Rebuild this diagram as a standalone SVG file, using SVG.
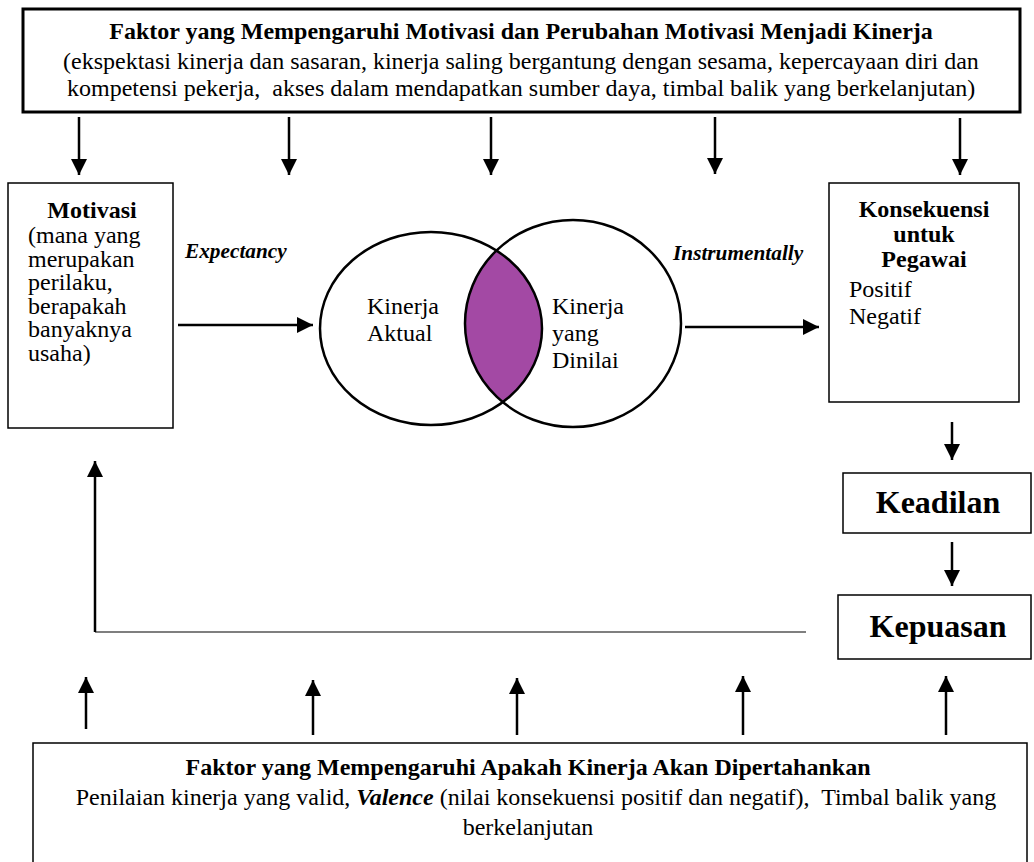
<svg xmlns="http://www.w3.org/2000/svg" width="1034" height="862" viewBox="0 0 1034 862">
  <style>
    text { font-family: "Liberation Serif", "Times New Roman", serif; font-size: 24px; fill: #000; white-space: pre; }
    .b { font-weight: bold; }
    .bi { font-weight: bold; font-style: italic; }
    .lab { font-weight: bold; font-style: italic; font-size: 21.3px; }
    .big { font-weight: bold; font-size: 32px; }
    .mid { text-anchor: middle; }
    .box { fill: #fff; stroke: #000; stroke-width: 1.5; }
    .thick { fill: #fff; stroke: #000; stroke-width: 3; }
    .arrow { stroke: #000; stroke-width: 2.5; fill: none; marker-end: url(#head); }
    .ring { fill: none; stroke: #000; stroke-width: 2.5; }
  </style>
  <defs>
    <marker id="head" markerUnits="userSpaceOnUse" markerWidth="16" markerHeight="16" refX="16" refY="8" orient="auto">
      <path d="M0,0 L16,8 L0,16 z" fill="#000"/>
    </marker>
    <clipPath id="leftClip">
      <ellipse cx="431" cy="328.5" rx="111" ry="96.5"/>
    </clipPath>
  </defs>
  <rect width="1034" height="862" fill="#fff"/>

  <!-- factors driving motivation -->
  <g id="node-faktor-motivasi">
    <rect class="thick" x="23" y="9" width="997" height="103"/>
    <text class="b mid" x="521" y="39">Faktor yang Mempengaruhi Motivasi dan Perubahan Motivasi Menjadi Kinerja</text>
    <text x="63" y="68.5">(ekspektasi kinerja dan sasaran, kinerja saling bergantung dengan sesama, kepercayaan diri dan</text>
    <text x="67" y="96">kompetensi pekerja,  akses dalam mendapatkan sumber daya, timbal balik yang berkelanjutan)</text>
  </g>

  <g id="node-motivasi">
    <rect class="box" x="8" y="183" width="165" height="245"/>
    <text class="b mid" x="92" y="218">Motivasi</text>
    <text x="28" y="243">(mana yang</text>
    <text x="28" y="266.6">merupakan</text>
    <text x="28" y="290.2">perilaku,</text>
    <text x="28" y="313.8">berapakah</text>
    <text x="28" y="337.4">banyaknya</text>
    <text x="28" y="361">usaha)</text>
  </g>

  <!-- overlap of actual and appraised performance -->
  <g id="node-kinerja">
    <ellipse cx="573" cy="323.5" rx="108" ry="103.5" fill="#a349a4" clip-path="url(#leftClip)"/>
    <ellipse class="ring" cx="431" cy="328.5" rx="111" ry="96.5"/>
    <ellipse class="ring" cx="573" cy="323.5" rx="108" ry="103.5"/>
    <text x="367" y="314">Kinerja</text>
    <text x="367" y="341">Aktual</text>
    <text x="552" y="314">Kinerja</text>
    <text x="552" y="341">yang</text>
    <text x="552" y="368">Dinilai</text>
  </g>

  <g id="node-konsekuensi">
    <rect class="box" x="829" y="183" width="190" height="219"/>
    <text class="b mid" x="924" y="217">Konsekuensi</text>
    <text class="b mid" x="924" y="242">untuk</text>
    <text class="b mid" x="924" y="267">Pegawai</text>
    <text x="849" y="297">Positif</text>
    <text x="849" y="324">Negatif</text>
  </g>

  <g id="node-keadilan">
    <rect class="box" x="843" y="473" width="188" height="60"/>
    <text class="big mid" x="938" y="513">Keadilan</text>
  </g>

  <g id="node-kepuasan">
    <rect class="box" x="838" y="595" width="193" height="64"/>
    <text class="big mid" x="938" y="637">Kepuasan</text>
  </g>

  <!-- factors that decide whether performance is sustained -->
  <g id="node-faktor-kinerja">
    <rect class="box" x="33" y="743" width="994" height="140"/>
    <text class="b mid" x="528" y="775">Faktor yang Mempengaruhi Apakah Kinerja Akan Dipertahankan</text>
    <text class="mid" x="536" y="805">Penilaian kinerja yang valid, <tspan class="bi">Valence</tspan> (nilai konsekuensi positif dan negatif),  Timbal balik yang</text>
    <text class="mid" x="528" y="835">berkelanjutan</text>
  </g>

  <g id="connectors">
    <!-- down from the top factor box -->
    <line class="arrow" x1="79" y1="117" x2="79" y2="175"/>
    <line class="arrow" x1="289" y1="117" x2="289" y2="175"/>
    <line class="arrow" x1="491" y1="117" x2="491" y2="175"/>
    <line class="arrow" x1="715" y1="117" x2="715" y2="174"/>
    <line class="arrow" x1="960" y1="118" x2="960" y2="175"/>

    <!-- main chain -->
    <line class="arrow" x1="178" y1="325" x2="313" y2="325"/>
    <text class="lab" x="185" y="258">Expectancy</text>
    <line class="arrow" x1="685" y1="327" x2="819" y2="327"/>
    <text class="lab" x="673" y="260">Instrumentally</text>
    <line class="arrow" x1="952" y1="422" x2="952" y2="460"/>
    <line class="arrow" x1="952" y1="542" x2="952" y2="586"/>

    <!-- feedback to motivation -->
    <line x1="95" y1="632" x2="806" y2="632" stroke="#555" stroke-width="1.5"/>
    <line class="arrow" x1="95" y1="632" x2="95" y2="461" stroke-width="2"/>

    <!-- up from the bottom factor box -->
    <line class="arrow" x1="86" y1="729" x2="86" y2="677"/>
    <line class="arrow" x1="313" y1="735" x2="313" y2="680"/>
    <line class="arrow" x1="517" y1="735" x2="517" y2="678"/>
    <line class="arrow" x1="743" y1="735" x2="743" y2="676"/>
    <line class="arrow" x1="946" y1="735" x2="946" y2="676"/>
  </g>
</svg>
